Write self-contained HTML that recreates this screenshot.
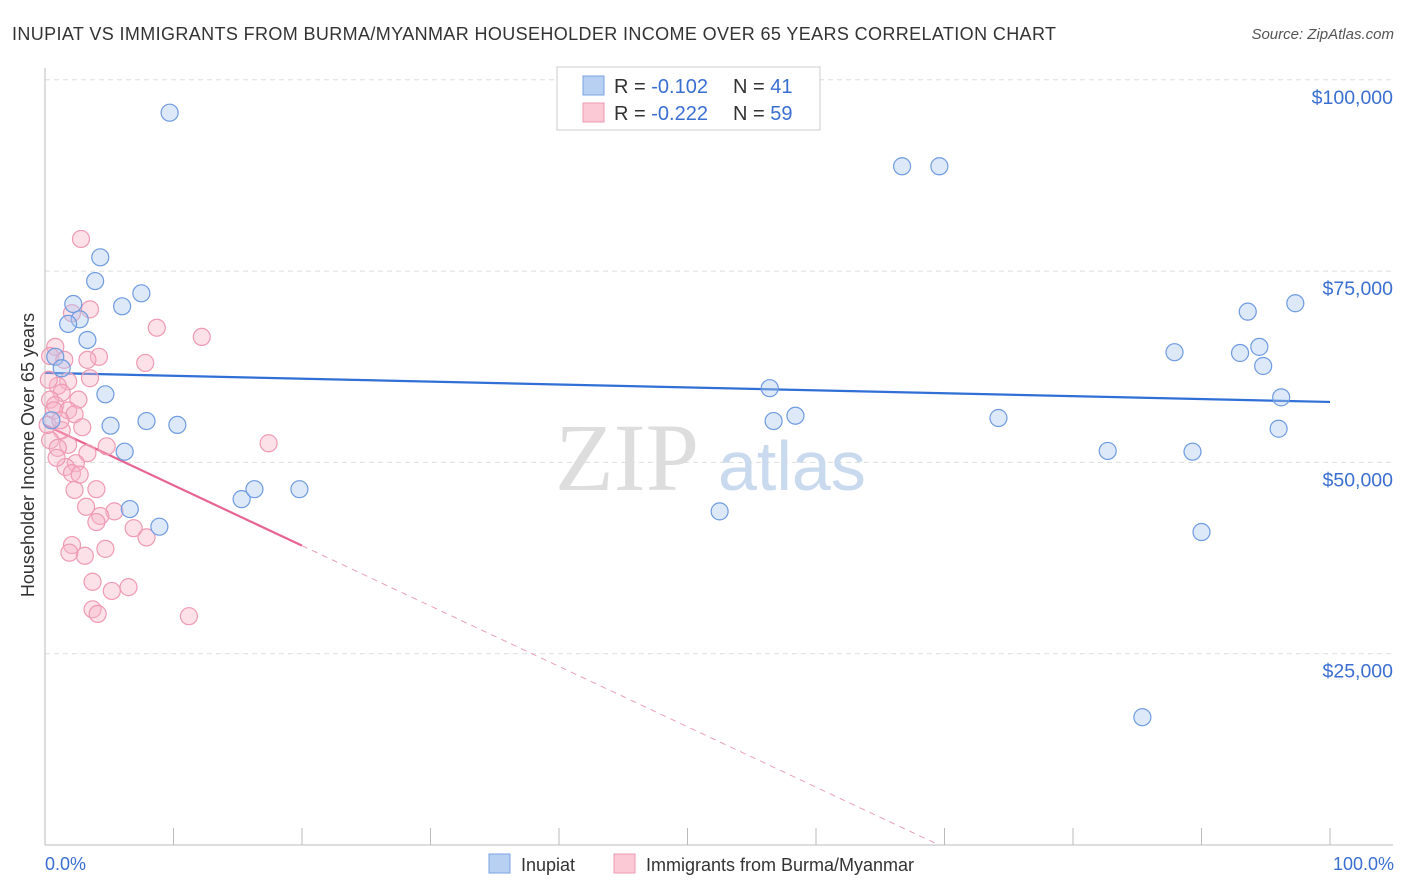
<!DOCTYPE html>
<html><head><meta charset="utf-8"><style>
body{margin:0;background:#fff;font-family:"Liberation Sans",sans-serif;}
svg{display:block}
</style></head><body>
<svg id="chart" width="1406" height="892">
<text x="12" y="40" font-size="18" fill="#333" textLength="1044">INUPIAT VS IMMIGRANTS FROM BURMA/MYANMAR HOUSEHOLDER INCOME OVER 65 YEARS CORRELATION CHART</text>
<text x="1394" y="39" font-size="15" fill="#555" font-style="italic" text-anchor="end">Source: ZipAtlas.com</text>
<g id="grid"></g>
<text x="555" y="490" font-size="96" fill="#ddd" font-family="Liberation Serif,serif">ZIP</text>
<text x="718" y="490" font-size="70" fill="#c9d9ee">atlas</text>
<g id="axes"></g>
<g id="lines"></g>
<g id="pts"></g>
<text transform="translate(34,455) rotate(-90)" font-size="18" fill="#333" text-anchor="middle">Householder Income Over 65 years</text>
<text x="45" y="870" font-size="18" fill="#3a6fd1">0.0%</text>
<text x="1394" y="870" font-size="18" fill="#3a6fd1" text-anchor="end">100.0%</text>
<g>
<rect x="557" y="67" width="263" height="63" fill="#fff" stroke="#ccc"/>
<rect x="583" y="76" width="21" height="19" fill="#b8d1f3" stroke="#7aa3e0"/>
<rect x="583" y="103" width="21" height="19" fill="#fbc8d6" stroke="#ef9ab3"/>
<text x="614" y="93" font-size="20" fill="#333">R = <tspan fill="#3a6fd1">-0.102</tspan><tspan x="733">N = </tspan><tspan fill="#3a6fd1">41</tspan></text>
<text x="614" y="120" font-size="20" fill="#333">R = <tspan fill="#3a6fd1">-0.222</tspan><tspan x="733">N = </tspan><tspan fill="#3a6fd1">59</tspan></text>
</g>
<g>
<rect x="489" y="854" width="21" height="19" fill="#b8d1f3" stroke="#7aa3e0"/>
<text x="521" y="871" font-size="18" fill="#333">Inupiat</text>
<rect x="614" y="854" width="21" height="19" fill="#fbc8d6" stroke="#ef9ab3"/>
<text x="646" y="871" font-size="18" fill="#333">Immigrants from Burma/Myanmar</text>
</g>
</svg>
<script>
const yTicks=[25000,50000,75000,100000];
const yTickLabels=["$25,000","$50,000","$75,000","$100,000"];
const blueX=[9.7,66.7,69.6,4.3,3.9,7.5,2.2,6.0,2.7,1.8,3.3,0.8,1.3,4.7,5.1,7.9,10.3,6.2,6.6,8.9,15.3,16.3,19.8,0.5,56.4,56.7,58.4,74.2,52.5,82.7,89.3,90.0,85.4,87.9,93.0,94.5,94.8,93.6,97.3,96.2,96.0];
const blueY=[95700,88700,88700,76800,73700,72100,70700,70400,68700,68100,66000,63800,62300,58900,54800,55400,54900,51400,43900,41600,45200,46500,46500,55500,59700,55400,56100,55800,43600,51500,51400,40900,16700,64400,64300,65100,62600,69700,70800,58500,54400];
const pinkX=[2.8,3.5,2.1,8.7,12.2,7.8,0.8,0.4,4.2,3.3,3.5,1.8,1.0,1.3,0.4,2.6,0.8,1.8,2.3,2.9,1.3,0.4,1.8,1.0,3.3,17.4,2.4,1.6,2.1,2.7,0.9,4.0,2.3,3.2,5.4,4.3,4.0,6.9,7.9,2.1,1.9,3.1,4.7,3.7,5.2,6.5,3.7,4.1,11.2,0.3,0.7,0.2,1.2,1.5,4.8];
const pinkY=[79200,70000,69500,67600,66400,63000,65100,63900,63800,63400,61000,60600,60000,59100,58200,58200,57500,56800,56300,54600,54200,52900,52300,51900,51200,52500,49900,49400,48600,48400,50600,46500,46400,44200,43600,43000,42200,41400,40200,39200,38200,37800,38700,34400,33200,33700,30800,30200,29900,60800,56800,54900,55500,63400,52100];
const blueTrend=[61700,57900];
const pinkTrend=[54900,-789];
const NS="http://www.w3.org/2000/svg";
const X=v=>45+v*12.85, Y=v=>845-v/25000*191.3;
function mk(t,a,p){const e=document.createElementNS(NS,t);for(const k in a)e.setAttribute(k,a[k]);p.appendChild(e);return e;}
const grid=document.getElementById('grid');
yTicks.forEach((t,i)=>{
 const l=mk('line',{x1:45,x2:1393,y1:Y(t),y2:Y(t),stroke:'#ddd','stroke-dasharray':'5,4'},grid);
 
 
 const tx=mk('text',{x:1393,y:Y(t)+24,'font-size':19.5,fill:'#3a6fd1','text-anchor':'end'},grid);
 tx.textContent=yTickLabels[i];
 
 
});
const ax=document.getElementById('axes');
mk('line',{x1:45,x2:45,y1:68,y2:845,stroke:'#bbb'},ax);
mk('line',{x1:45,x2:1393,y1:845,y2:845,stroke:'#bbb'},ax);
for(let i=0;i<=10;i++){const t=mk('line',{x1:X(i*10),x2:X(i*10),y1:828,y2:845,stroke:'#bbb'},ax);
 
 }
const pts=document.getElementById('pts');
pinkX.forEach((x,i)=>{const c=mk('circle',{cx:X(x),cy:Y(pinkY[i]),r:8.5,fill:'rgba(248,180,200,0.4)',stroke:'#ef9ab3','stroke-width':1.2},pts);
 
 });
blueX.forEach((x,i)=>{const c=mk('circle',{cx:X(x),cy:Y(blueY[i]),r:8.5,fill:'rgba(170,200,240,0.4)',stroke:'#6f9be0','stroke-width':1.2},pts);
 
 });
const ln=document.getElementById('lines');
const bl=mk('line',{x1:X(0),y1:Y(blueTrend[0]),x2:X(100),y2:Y(blueTrend[1]),stroke:'#2f6fd6','stroke-width':2.2},ln);


const pf=x=>pinkTrend[0]+pinkTrend[1]*x;
const xz=-pinkTrend[0]/pinkTrend[1];
const ps=mk('line',{x1:X(0),y1:Y(pf(0)),x2:X(20),y2:Y(pf(20)),stroke:'#e8648f','stroke-width':2.2},ln);


const pd=mk('line',{x1:X(20),y1:Y(pf(20)),x2:X(xz),y2:Y(0),stroke:'#eba0b8','stroke-width':1,'stroke-dasharray':'6,5'},ln);


</script>
</body></html>
